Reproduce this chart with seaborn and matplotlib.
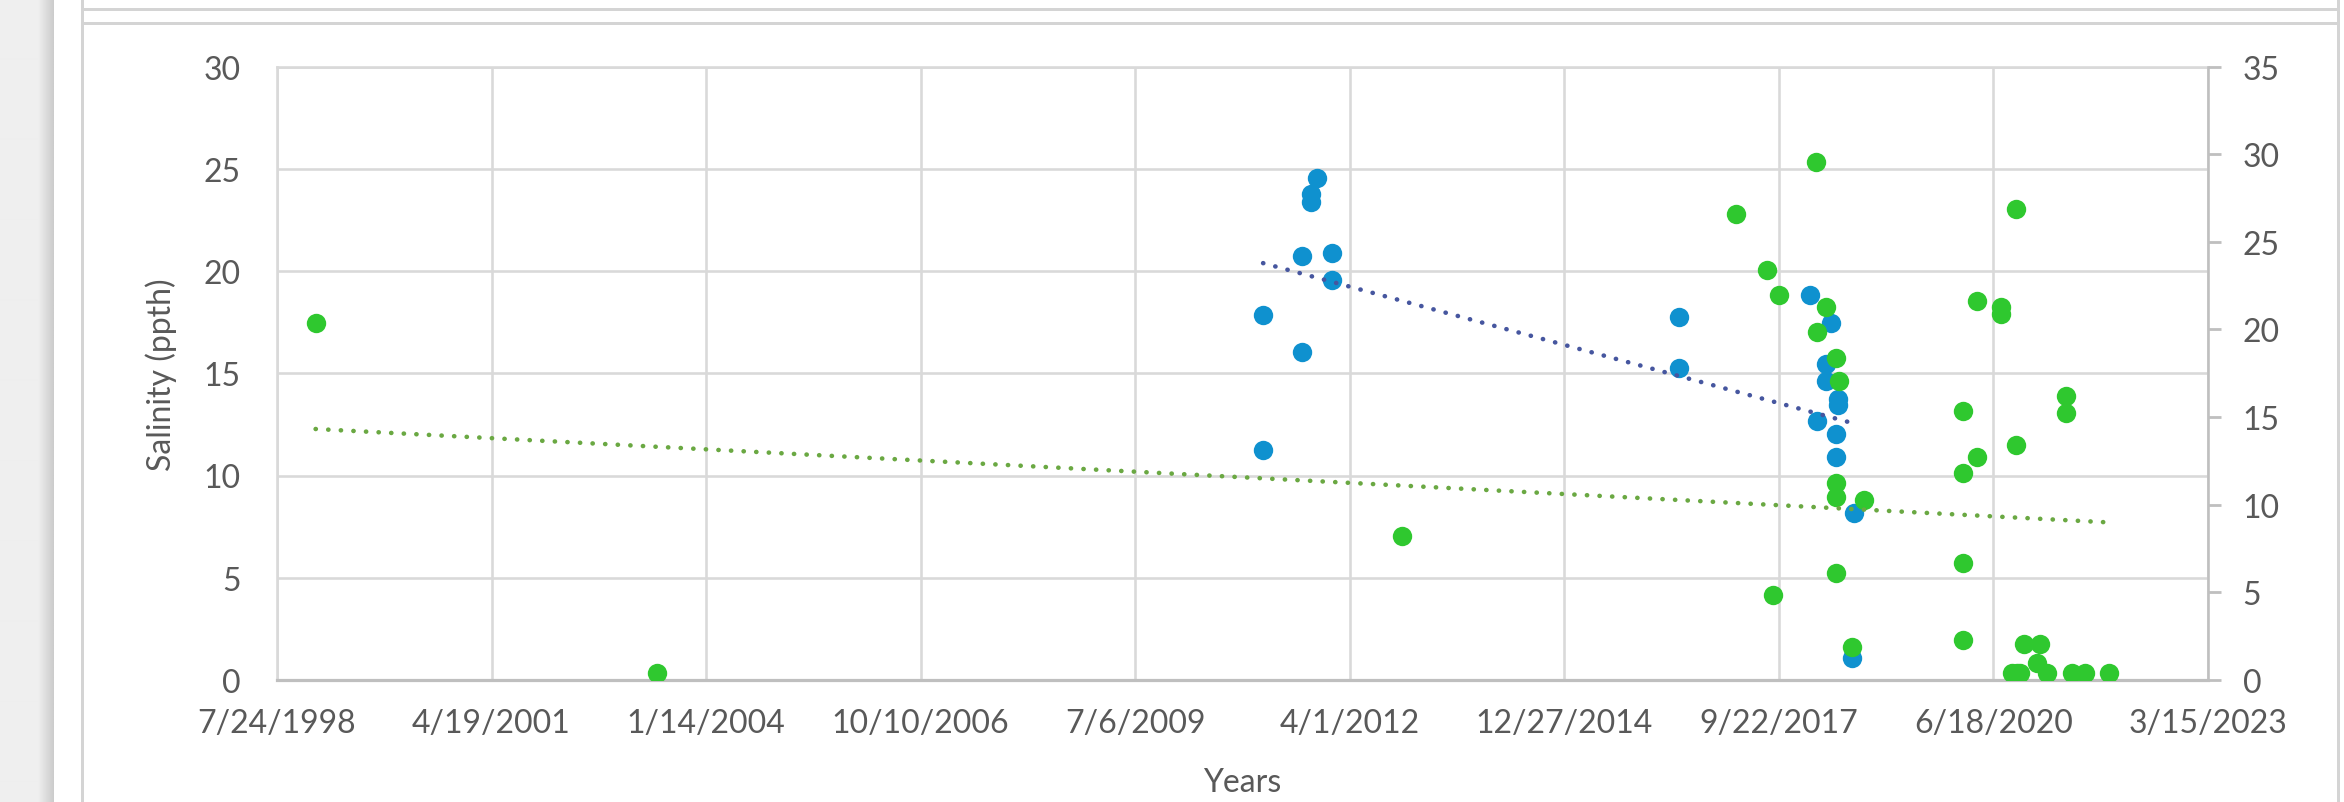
import numpy as np
import pandas as pd
import matplotlib
matplotlib.use("Agg")
import matplotlib.pyplot as plt
import matplotlib.dates as mdates
from matplotlib.lines import Line2D
from matplotlib.ticker import FixedLocator, FuncFormatter
import seaborn as sns

# ---- data -------------------------------------------------------------
# Blue series (ppth)
blue_dates = [
    "2011-02-22", "2011-02-22", "2011-08-20", "2011-08-20", "2011-10-05",
    "2011-10-05", "2011-11-02", "2012-01-08", "2012-01-08",
    "2016-06-13", "2016-06-13",
    "2018-02-12", "2018-05-25", "2018-04-28", "2018-04-28", "2018-06-24",
    "2018-06-24", "2018-03-20", "2018-06-13", "2018-06-13", "2018-09-07",
    "2018-08-30",
]
blue_salinity = [
    17.86, 11.24, 20.73, 16.05, 23.75,
    23.35, 24.56, 20.90, 19.56,
    17.74, 15.24,
    18.83, 17.47, 15.44, 14.63, 13.73,
    13.47, 12.68, 12.02, 10.89, 8.16,
    1.10,
]

# Green series (ppth)
green_dates = [
    "1999-01-20", "2003-05-30", "2012-12-01",
    "2018-03-12", "2017-03-07", "2017-07-27", "2017-09-22", "2018-04-28",
    "2018-03-20", "2018-06-16", "2018-06-29", "2018-06-16", "2018-06-16",
    "2018-10-23", "2018-06-13", "2017-08-25", "2018-08-30",
    "2020-09-30", "2020-04-01", "2020-07-24", "2020-07-24", "2021-05-21",
    "2021-05-21", "2020-01-27", "2020-09-30", "2020-04-04", "2020-01-27",
    "2020-01-27", "2020-01-27", "2020-11-09", "2021-01-22", "2021-01-06",
    "2020-09-11", "2020-10-06", "2020-10-20", "2021-02-22", "2021-06-18",
    "2021-08-19", "2021-12-09",
]
green_salinity = [
    17.44, 0.33, 7.06,
    25.35, 22.79, 20.07, 18.83, 18.22,
    17.04, 15.73, 14.60, 9.64, 8.94,
    8.82, 5.23, 4.18, 1.62,
    23.01, 18.52, 18.26, 17.91, 13.87,
    13.07, 13.17, 11.50, 10.89, 10.12,
    5.72, 1.94, 1.74, 1.74, 0.84,
    0.32, 0.32, 0.32, 0.32, 0.32,
    0.32, 0.32,
]

x_start, x_end, x_step_days = "1998-07-24", "2023-03-15", 1000
left_ticks = [0, 5, 10, 15, 20, 25, 30]
right_ticks = [0, 5, 10, 15, 20, 25, 30, 35]
y_label = "Salinity (ppth)"
x_label = "Years"

# ---- style ------------------------------------------------------------
BLUE = "#0f91cf"
GREEN = "#2fc82f"
BLUE_TREND = "#46569f"
GREEN_TREND = "#6aa842"
GRID = "#d9d9d9"
AXIS = "#bfbfbf"
TEXT = "#595959"

sns.set_style("white")
plt.rcParams["font.family"] = ["Lato", "DejaVu Sans"]

W_PX, H_PX, DPI = 2344, 803, 100
fig = plt.figure(figsize=(W_PX / DPI, H_PX / DPI), dpi=DPI)
fig.patch.set_facecolor("white")

# page chrome: shaded strip on the left and the panel borders
strip = fig.add_axes([0, 0, 54 / W_PX, 1])
grad = np.concatenate([np.full(38, 0.935), np.linspace(0.935, 0.80, 16)])
strip.imshow(np.tile(grad, (10, 1)), cmap="gray", vmin=0, vmax=1,
             aspect="auto", interpolation="bilinear")
strip.set_axis_off()


def px_line(x0, y0, x1, y1, color="#d4d4d4", lw_px=3):
    fig.add_artist(Line2D([x0 / W_PX, x1 / W_PX],
                          [1 - y0 / H_PX, 1 - y1 / H_PX],
                          transform=fig.transFigure, color=color,
                          linewidth=lw_px * 72 / DPI))


px_line(82, 0, 82, H_PX)
px_line(2338, 0, 2338, H_PX)
px_line(82, 10, 2338, 10)
px_line(82, 24, 2338, 24)

# ---- plot area --------------------------------------------------------
left_px, right_px, top_px, bottom_px = 277, 2208, 67.5, 681
ax = fig.add_axes([left_px / W_PX, 1 - bottom_px / H_PX,
                   (right_px - left_px) / W_PX, (bottom_px - top_px) / H_PX])
ax2 = ax.twinx()

blue_df = pd.DataFrame({"x": mdates.date2num(pd.to_datetime(blue_dates)),
                        "salinity": blue_salinity})
green_df = pd.DataFrame({"x": mdates.date2num(pd.to_datetime(green_dates)),
                         "salinity": green_salinity})

dot_area = 195
trend_style = dict(linewidth=3.3, linestyle=(0, (0.05, 2.7)),
                   dash_capstyle="round")

sns.scatterplot(data=blue_df, x="x", y="salinity", ax=ax, color=BLUE,
                s=dot_area, linewidth=0, zorder=3)
sns.scatterplot(data=green_df, x="x", y="salinity", ax=ax, color=GREEN,
                s=dot_area, linewidth=0, zorder=3)
sns.regplot(data=blue_df, x="x", y="salinity", ax=ax, scatter=False,
            ci=None, truncate=True,
            line_kws=dict(color=BLUE_TREND, zorder=4, **trend_style))
# the green trend is set against the secondary (0-35) scale
sns.regplot(data=green_df, x="x", y="salinity", ax=ax2, scatter=False,
            ci=None, truncate=True,
            line_kws=dict(color=GREEN_TREND, zorder=4, **trend_style))

# axes limits and ticks
x0 = mdates.date2num(pd.Timestamp(x_start))
x1 = mdates.date2num(pd.Timestamp(x_end))
xticks = np.arange(x0, x1 + 1, x_step_days)
ax.set_xlim(x0, x1)
ax.xaxis.set_major_locator(FixedLocator(xticks))


def fmt_date(v, _pos):
    d = mdates.num2date(v)
    return f"{d.month}/{d.day}/{d.year}"


ax.xaxis.set_major_formatter(FuncFormatter(fmt_date))
ax.set_ylim(left_ticks[0], left_ticks[-1])
ax.set_yticks(left_ticks)
ax2.set_ylim(right_ticks[0], right_ticks[-1])
ax2.set_yticks(right_ticks)

ax.grid(True, color=GRID, linewidth=2.6 * 72 / DPI)
ax.set_axisbelow(True)
ax2.grid(False)

tick_font = 23
ax.tick_params(axis="x", length=0, pad=20, labelsize=tick_font,
               labelcolor=TEXT)
ax.tick_params(axis="y", length=0, pad=26, labelsize=tick_font,
               labelcolor=TEXT)
ax2.tick_params(axis="y", length=9, width=2, color=AXIS, direction="out",
                pad=16, labelsize=tick_font, labelcolor=TEXT)

for name, sp in ax.spines.items():
    sp.set_visible(name in ("left", "bottom", "top"))
ax.spines["left"].set_color(GRID)
ax.spines["left"].set_linewidth(2.6 * 72 / DPI)
ax.spines["top"].set_color(GRID)
ax.spines["top"].set_linewidth(2.6 * 72 / DPI)
ax.spines["bottom"].set_color(AXIS)
ax.spines["bottom"].set_linewidth(3.2 * 72 / DPI)
for name, sp in ax2.spines.items():
    sp.set_visible(name == "right")
ax2.spines["right"].set_color(AXIS)
ax2.spines["right"].set_linewidth(2.6 * 72 / DPI)

ax.set_xlabel(x_label, fontsize=tick_font, color=TEXT)
ax.xaxis.set_label_coords(0.5, -0.142)
ax.set_ylabel(y_label, fontsize=tick_font, color=TEXT)
ax.yaxis.set_label_coords(-0.052, 0.5)
ax2.set_ylabel("")

fig.savefig("out.png", dpi=DPI, facecolor="white")
